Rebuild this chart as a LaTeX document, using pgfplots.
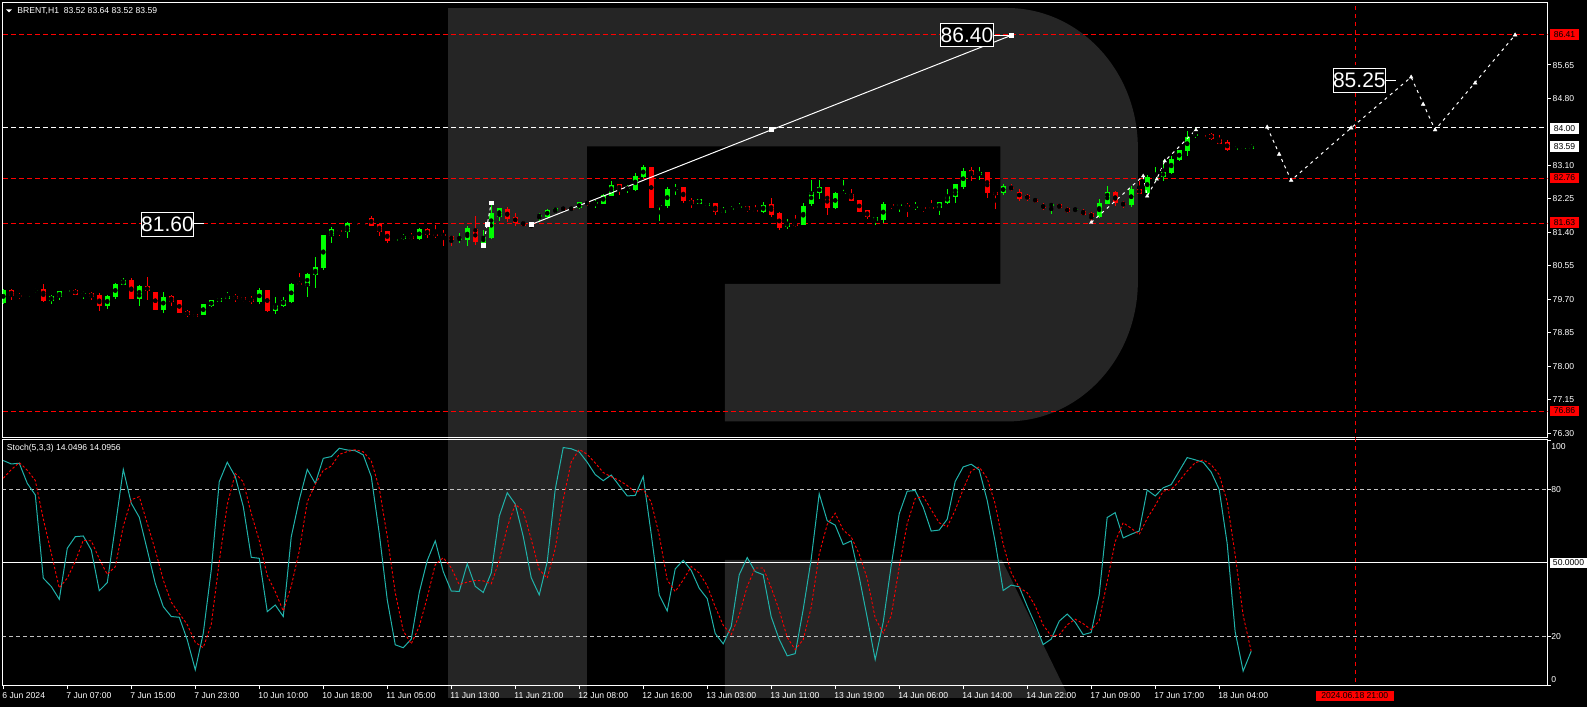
\documentclass[border=0pt]{standalone}
\usepackage{pgfplots}
\pgfplotsset{compat=1.18}
\usepackage{pgfplotstable}
\usepackage{fontspec}
\setmainfont{Liberation Sans}
\definecolor{bull}{RGB}{0,255,0}
\definecolor{bear}{RGB}{255,0,0}
\definecolor{wm}{RGB}{37,37,37}
\definecolor{stm}{RGB}{32,178,170}
\definecolor{lvl}{RGB}{192,192,192}
\newcommand{\lbl}{\fontsize{8.6bp}{10bp}\selectfont}
\newcommand{\biglbl}{\fontsize{21bp}{24bp}\selectfont}

\pgfplotstableread{
i o h l c m s
0 79.62 79.96 79.58 79.94 91.7 84.5
1 79.94 79.95 79.67 79.79 90.3 88.0
2 79.81 79.85 79.72 79.76 90.6 90.87
3 79.76 79.80 79.74 79.79 82.4 87.77
4 79.91 79.99 79.87 79.94 77.7 83.57
5 79.96 80.09 79.64 79.67 43.8 67.97
6 79.67 79.82 79.59 79.79 40.4 53.97
7 79.76 79.91 79.67 79.91 35.2 39.80
8 79.90 79.94 79.87 79.94 56.0 43.87
9 79.94 79.96 79.81 79.82 60.7 50.63
10 79.84 79.90 79.71 79.86 61.0 59.23
11 79.86 79.89 79.68 79.76 55.3 59.00
12 79.81 79.85 79.41 79.52 38.7 51.67
13 79.52 79.82 79.45 79.79 42.0 45.33
14 79.77 80.12 79.72 80.09 64.8 48.50
15 80.06 80.24 80.06 80.19 88.1 64.97
16 80.19 80.24 79.70 79.70 74.3 75.73
17 79.72 80.06 79.54 80.04 68.6 77.00
18 80.04 80.27 79.67 79.90 55.3 66.07
19 79.89 79.89 79.44 79.44 41.7 55.20
20 79.44 79.88 79.34 79.76 32.2 43.07
21 79.79 79.81 79.54 79.64 28.2 34.03
22 79.68 79.68 79.36 79.36 27.9 29.43
23 79.40 79.43 79.24 79.30 18.7 24.93
24 79.33 79.33 79.24 79.25 6.5 17.70
25 79.30 79.58 79.30 79.58 21.4 15.53
26 79.53 79.68 79.51 79.68 47.2 25.03
27 79.64 79.74 79.64 79.74 83.1 50.57
28 79.72 79.89 79.72 79.79 91.0 73.77
29 79.79 79.83 79.63 79.71 85.2 86.43
30 79.76 79.76 79.63 79.68 73.0 83.07
31 79.72 79.79 79.58 79.64 52.3 70.17
32 79.63 79.99 79.59 79.94 51.9 59.07
33 79.94 79.94 79.39 79.41 30.2 44.80
34 79.41 79.76 79.34 79.56 32.9 38.33
35 79.53 79.76 79.50 79.68 28.2 30.43
36 79.63 80.12 79.62 80.09 60.7 40.60
37 80.12 80.37 80.04 80.06 75.7 54.87
38 80.04 80.37 79.77 80.34 88.1 74.83
39 80.32 80.77 79.99 80.52 82.4 82.07
40 80.49 81.33 80.45 81.33 92.6 87.70
41 81.32 81.54 81.14 81.49 93.3 89.43
42 81.46 81.46 81.32 81.42 96.7 94.20
43 81.42 81.66 81.27 81.63 96.0 95.33
44 81.63 81.66 81.58 81.58 95.7 96.13
45 81.61 81.61 81.59 81.59 94.0 95.23
46 81.77 81.82 81.55 81.57 85.2 91.63
47 81.61 81.61 81.32 81.42 62.1 80.43
48 81.44 81.44 81.14 81.18 35.0 60.77
49 81.18 81.26 81.16 81.23 16.7 37.93
50 81.24 81.36 81.21 81.31 15.5 22.40
51 81.31 81.38 81.21 81.22 19.0 17.07
52 81.24 81.51 81.21 81.49 38.0 24.17
53 81.49 81.51 81.26 81.33 51.0 36.00
54 81.36 81.59 81.26 81.33 59.0 49.33
55 81.34 81.46 81.06 81.33 46.5 52.17
56 81.31 81.31 81.06 81.21 38.6 48.03
57 81.21 81.38 81.13 81.26 38.4 41.17
58 81.21 81.56 81.06 81.51 49.7 42.23
59 81.49 81.82 81.08 81.16 40.5 42.87
60 81.13 81.46 81.06 81.28 38.0 42.73
61 81.26 82.17 81.23 81.89 46.0 41.50
62 81.80 82.01 81.68 82.01 69.0 51.00
63 81.99 82.04 81.66 81.75 78.6 64.53
64 81.78 81.88 81.56 81.65 74.0 73.87
65 81.65 81.70 81.56 81.57 60.8 71.13
66 81.60 81.62 81.50 81.55 44.0 59.60
67 81.80 81.89 81.68 81.84 37.0 47.27
68 81.80 82.00 81.77 81.97 50.5 43.83
69 81.94 82.01 81.89 82.01 80.0 55.83
70 82.03 82.03 81.96 81.98 97.0 75.83
71 82.03 82.03 81.96 81.98 96.5 91.17
72 82.01 82.16 81.99 82.16 95.2 96.23
73 82.17 82.20 82.08 82.12 91.0 94.23
74 82.12 82.21 82.02 82.17 86.0 90.73
75 82.12 82.38 82.12 82.35 83.5 86.83
76 82.33 82.70 82.33 82.61 85.8 85.10
77 82.62 82.62 82.35 82.48 81.5 83.60
78 82.50 82.59 82.41 82.53 77.3 81.53
79 82.48 82.92 82.45 82.83 77.5 78.77
80 82.80 83.10 82.78 83.05 85.2 80.00
81 83.06 83.07 82.01 82.01 61.7 74.80
82 82.07 82.12 81.70 82.10 37.0 61.30
83 82.07 82.54 82.01 82.51 30.5 43.07
84 82.49 82.64 82.35 82.51 47.6 38.37
85 82.56 82.56 82.14 82.19 51.1 43.07
86 82.22 82.27 82.01 82.12 47.0 48.57
87 82.12 82.25 82.12 82.25 39.7 45.93
88 82.07 82.17 82.07 82.14 35.5 40.73
89 82.14 82.14 81.83 81.91 21.3 32.17
90 81.88 82.04 81.88 81.96 17.1 24.63
91 81.96 82.06 81.93 82.03 24.1 20.83
92 82.01 82.14 81.99 82.07 45.2 28.80
93 82.07 82.07 81.91 81.96 52.2 40.50
94 81.96 82.09 81.88 81.91 46.5 47.97
95 81.91 82.17 81.88 82.09 45.2 47.97
96 82.12 82.27 81.80 81.83 28.1 39.93
97 81.88 81.91 81.47 81.51 18.9 30.73
98 81.54 81.75 81.49 81.64 12.2 19.73
99 81.64 81.85 81.54 81.57 13.1 14.73
100 81.59 82.14 81.59 82.07 31.1 18.80
101 82.12 82.72 82.07 82.43 51.6 31.93
102 82.41 82.72 82.25 82.54 78.2 53.63
103 82.54 82.54 81.83 82.01 67.2 65.67
104 82.01 82.43 81.99 82.41 65.4 70.27
105 82.38 82.72 82.35 82.41 57.5 63.37
106 82.38 82.49 82.20 82.20 59.0 60.63
107 82.22 82.22 81.91 81.93 44.3 53.60
108 81.96 81.96 81.75 81.80 27.8 43.70
109 81.70 81.80 81.59 81.78 10.7 27.60
110 81.72 82.17 81.64 82.12 25.9 21.47
111 82.12 82.14 81.99 82.07 48.9 28.50
112 82.09 82.14 81.93 82.12 70.0 48.27
113 82.09 82.14 81.80 82.04 79.2 66.03
114 82.04 82.17 81.96 82.07 79.5 76.23
115 82.04 82.07 81.91 82.01 72.7 77.13
116 82.04 82.22 81.96 81.99 63.0 71.73
117 82.01 82.17 81.83 82.17 63.4 66.37
118 82.14 82.51 82.12 82.33 67.8 64.73
119 82.30 82.62 82.14 82.62 83.2 71.47
120 82.56 83.04 82.49 82.96 89.1 80.03
121 82.98 83.06 82.70 82.85 90.2 87.50
122 82.85 83.06 82.72 82.93 87.9 89.07
123 82.93 82.93 82.27 82.41 75.5 84.53
124 82.43 82.43 81.99 82.35 58.6 74.00
125 82.40 82.62 82.35 82.58 38.8 57.63
126 82.55 82.62 82.45 82.49 41.0 46.13
127 82.43 82.50 82.20 82.26 40.3 40.03
128 82.35 82.38 82.20 82.24 32.4 37.90
129 82.26 82.28 82.15 82.18 25.0 32.57
130 82.07 82.15 81.97 82.04 16.8 24.73
131 82.07 82.12 81.87 82.12 19.0 20.27
132 82.12 82.12 81.99 82.02 26.3 20.70
133 82.02 82.04 81.89 81.92 29.2 24.83
134 81.97 82.02 81.92 82.00 25.9 27.13
135 81.94 81.99 81.84 81.84 20.8 25.30
136 81.89 81.92 81.65 81.79 21.7 22.80
137 81.79 82.25 81.77 82.15 37.0 26.50
138 82.12 82.58 82.12 82.42 68.5 42.40
139 82.42 82.45 82.07 82.15 70.5 58.67
140 82.15 82.20 82.02 82.10 60.2 66.40
141 82.10 82.58 82.04 82.50 61.7 64.13
142 82.50 82.70 82.37 82.37 63.0 61.63
143 82.40 82.86 82.38 82.81 79.7 68.13
144 82.76 83.06 82.68 82.81 77.3 73.33
145 82.81 83.24 82.70 82.93 80.6 79.20
146 82.91 83.34 82.88 83.26 81.9 79.93
147 83.24 83.49 83.21 83.49 87.4 83.30
148 83.47 83.97 83.34 83.82 92.9 87.40
149 83.85 84.05 83.80 83.90 92.0 90.77
150 83.87 83.87 83.80 83.83 91.0 91.97
151 83.90 83.92 83.75 83.77 87.0 90.00
152 83.77 83.87 83.64 83.64 80.0 86.00
153 83.69 83.74 83.47 83.49 58.0 75.00
154 83.49 83.59 83.47 83.54 22.0 53.33
155 83.52 83.62 83.52 83.54 6.0 28.67
156 83.52 83.64 83.52 83.59 14.05 14.10
}\data

\begin{document}
\begin{tikzpicture}
\begin{scope}[x=1bp,y=1bp]
\useasboundingbox (0,0) rectangle (1587,707);
\fill[black] (0,0) rectangle (1587,707);
% watermark
\fill[wm] (448.5,9) rectangle (587.2,699);
\fill[wm] (587.2,699) -- (1007,699) arc[start angle=90,end angle=0,x radius=131,y radius=140]
  -- (1138,425.5) arc[start angle=0,end angle=-90,x radius=131,y radius=140]
  -- (725,285.5) -- (725,423) -- (1000.5,423) -- (1000.5,560.5) -- (587.2,560.5) -- cycle;
\fill[wm] (725,147) -- (1002,147) -- (1069.3,9) -- (725,9) -- cycle;
\end{scope}

% ---------------- price panel ----------------
\begin{axis}[
  at={(2.7bp,269.7bp)}, anchor=south west,
  width=1545bp, height=434.6bp, scale only axis,
  xmin=-0.075, xmax=193.05, ymin=76.199, ymax=87.23,
  axis line style={white, line width=1bp},
  xtick=\empty,
  ytick={76.30,77.15,78.00,78.85,79.70,80.55,81.40,82.25,83.10,84.80,85.65},
  ytick pos=right, yticklabel pos=right,
  tick align=outside, major tick length=3bp,
  tick style={white, line width=1bp},
  yticklabel style={font=\lbl, text=white, anchor=base west, inner sep=0pt, xshift=2bp, yshift=-3.1bp,
    /pgf/number format/.cd, fixed, zerofill, precision=2, assume math mode=true},
  clip=true,
]
\addplot[bear, line width=1bp, dash pattern=on 5bp off 3bp] coordinates {(-1,86.41) (194,86.41)};
\addplot[bear, line width=1bp, dash pattern=on 5bp off 3bp] coordinates {(-1,82.76) (194,82.76)};
\addplot[bear, line width=1bp, dash pattern=on 5bp off 3bp] coordinates {(-1,81.63) (194,81.63)};
\addplot[bear, line width=1bp, dash pattern=on 5bp off 3bp] coordinates {(-1,76.86) (194,76.86)};
\addplot[white, line width=1bp, dash pattern=on 5bp off 3bp] coordinates {(-1,84.05) (194,84.05)};
\addplot[bear, line width=1bp, dash pattern=on 4bp off 4bp] coordinates {(169,70) (169,90)};
% wicks
\addplot[only marks, mark=none, restrict y to domain=0:200,
  error bars/.cd, y dir=both, y explicit, error mark=none,
  error bar style={draw=bull, line width=1bp}]
  table[x=i, y expr={(\thisrow{h}+\thisrow{l})/2 + 1000*(\thisrow{o}>\thisrow{c})},
        y error expr={(\thisrow{h}-\thisrow{l})/2}] {\data};
\addplot[only marks, mark=none, restrict y to domain=0:200,
  error bars/.cd, y dir=both, y explicit, error mark=none,
  error bar style={draw=bear, line width=1bp}]
  table[x=i, y expr={(\thisrow{h}+\thisrow{l})/2 + 1000*(1-(\thisrow{o}>\thisrow{c}))},
        y error expr={(\thisrow{h}-\thisrow{l})/2}] {\data};
% bodies
\addplot[only marks, mark=none, restrict y to domain=0:200,
  error bars/.cd, y dir=both, y explicit, error mark=none,
  error bar style={draw=bull, line width=5bp}]
  table[x=i, y expr={(\thisrow{o}+\thisrow{c})/2 + 1000*(\thisrow{o}>\thisrow{c})},
        y error expr={max(abs(\thisrow{c}-\thisrow{o})/2,0.013)}] {\data};
\addplot[only marks, mark=none, restrict y to domain=0:200,
  error bars/.cd, y dir=both, y explicit, error mark=none,
  error bar style={draw=bear, line width=5bp}]
  table[x=i, y expr={(\thisrow{o}+\thisrow{c})/2 + 1000*(1-(\thisrow{o}>\thisrow{c}))},
        y error expr={max(abs(\thisrow{c}-\thisrow{o})/2,0.013)}] {\data};
% analysis lines
\addplot[white, line width=1bp, mark=square*, mark size=2bp] coordinates {(66,81.60) (96,84.00) (126,86.40)};
\addplot[white, line width=1bp, dash pattern=on 3bp off 3bp, mark=square*, mark size=1.8bp, mark options={solid}] coordinates {(60,81.06) (60.5,81.60) (61,82.15)};
\addplot[white, line width=1bp, dash pattern=on 3bp off 4bp] coordinates {(136,81.65) (142.5,82.83) (143,82.32) (144.2,82.75) (145.2,83.21) (149.1,84.0)};
\addplot[white, only marks, mark=triangle*, mark size=2bp] coordinates {(136,81.65) (142.5,82.83) (143,82.32) (144.2,82.75) (145.2,83.21) (149.1,84.0)};
\addplot[white, line width=1bp, dash pattern=on 3bp off 4bp] coordinates {(158,84.07) (161,82.72) (168.5,84.05) (176,85.34) (179,84.0) (189,86.41)};
\addplot[white, only marks, mark=triangle*, mark size=2.2bp] coordinates {(158,84.07) (159.5,83.38) (161,82.72) (168.5,84.05) (176,85.34) (177.5,84.65) (179,84.0) (184,85.19) (189,86.41)};
\end{axis}

% ---------------- stochastic panel ----------------
\begin{axis}[
  at={(2.7bp,21bp)}, anchor=south west,
  width=1545bp, height=246.7bp, scale only axis,
  xmin=-0.075, xmax=193.05, ymin=-0.04, ymax=100.37,
  axis line style={white, line width=1bp},
  xtick={0,8,...,152},
  xticklabels={6 Jun 2024, 7 Jun 07:00, 7 Jun 15:00, 7 Jun 23:00, 10 Jun 10:00, 10 Jun 18:00, 11 Jun 05:00, 11 Jun 13:00, 11 Jun 21:00, 12 Jun 08:00, 12 Jun 16:00, 13 Jun 03:00, 13 Jun 11:00, 13 Jun 19:00, 14 Jun 06:00, 14 Jun 14:00, 14 Jun 22:00, 17 Jun 09:00, 17 Jun 17:00, 18 Jun 04:00},
  xtick pos=bottom,
  xticklabel style={font=\lbl, text=white, anchor=north west, inner sep=0pt, xshift=-1bp, yshift=-2.5bp},
  ytick={0,20,80,100}, yticklabels={,,,},
  ytick pos=right,
  tick align=outside, major tick length=3.5bp,
  tick style={white, line width=1bp},
  clip=true,
]
\addplot[lvl, line width=1bp, dash pattern=on 4bp off 3bp] coordinates {(-1,80) (194,80)};
\addplot[lvl, line width=1bp, dash pattern=on 4bp off 3bp] coordinates {(-1,20) (194,20)};
\addplot[white, line width=1bp] coordinates {(-1,50) (194,50)};
\addplot[bear, line width=1bp, dash pattern=on 4bp off 4bp] coordinates {(169,-5) (169,105)};
\addplot[stm, line width=1bp] table[x=i, y=m] {\data};
\addplot[bear, line width=0.9bp, dash pattern=on 2.5bp off 2bp] table[x=i, y=s] {\data};
\end{axis}

% ---------------- texts and boxes ----------------
\begin{scope}[x=1bp,y=1bp]
\fill[white] (6,697.5) -- (12,697.5) -- (9,694.5) -- cycle;
\node[anchor=base west, inner sep=0pt, text=white, font=\lbl] at (17.3,693.2) {BRENT,H1\ \ 83.52 83.64 83.52 83.59};
\node[anchor=base west, inner sep=0pt, text=white, font=\lbl] at (6.7,256.6) {Stoch(5,3,3) 14.0496 14.0956};

\node[fill=bear, text=black, font=\lbl, inner sep=0pt, minimum width=29.6bp, minimum height=10.7bp, anchor=west] at (1549.7,672.3) {86.41};
\node[fill=white, text=black, font=\lbl, inner sep=0pt, minimum width=29.6bp, minimum height=10.7bp, anchor=west] at (1549.7,578.5) {84.00};
\node[fill=white, text=black, font=\lbl, inner sep=0pt, minimum width=29.6bp, minimum height=10.7bp, anchor=west] at (1549.7,560.7) {83.59};
\node[fill=bear, text=black, font=\lbl, inner sep=0pt, minimum width=29.6bp, minimum height=10.7bp, anchor=west] at (1549.7,529) {82.76};
\node[fill=bear, text=black, font=\lbl, inner sep=0pt, minimum width=29.6bp, minimum height=10.7bp, anchor=west] at (1549.7,484.2) {81.63};
\node[fill=bear, text=black, font=\lbl, inner sep=0pt, minimum width=29.6bp, minimum height=10.7bp, anchor=west] at (1549.7,296) {76.86};

\node[anchor=base west, inner sep=0pt, text=white, font=\lbl] at (1551.3,257.9) {100};
\node[anchor=base west, inner sep=0pt, text=white, font=\lbl] at (1551.3,214.6) {80};
\node[anchor=base west, inner sep=0pt, text=white, font=\lbl] at (1551.3,67.2) {20};
\node[anchor=base west, inner sep=0pt, text=white, font=\lbl] at (1551.3,24.6) {0};
\node[fill=white, text=black, font=\lbl, inner sep=0pt, minimum width=37bp, minimum height=10.6bp, anchor=west] at (1550,144) {50.0000};

\node[fill=bear, text=black, font=\lbl, inner sep=0pt, minimum width=78bp, minimum height=10bp] at (1354.9,11.3) {2024.06.18 21:00};

\node[draw=white, line width=1bp, fill=black, text=white, font=\biglbl, inner sep=0pt, minimum width=52.6bp, minimum height=23.5bp] at (967.1,671.85) {86.40};
\draw[white, line width=1bp] (993.4,671) -- (1011,671);
\node[draw=white, line width=1bp, fill=black, text=white, font=\biglbl, inner sep=0pt, minimum width=52.4bp, minimum height=24bp] at (1359.5,626.7) {85.25};
\draw[white, line width=1bp] (1385.7,626.7) -- (1396,626.7);
\node[draw=white, line width=1bp, fill=black, text=white, font=\biglbl, inner sep=0pt, minimum width=52.4bp, minimum height=24.4bp] at (167.5,482.5) {81.60};
\draw[white, line width=1bp] (193.7,483.3) -- (203.7,483.3);
\end{scope}
\end{tikzpicture}
\end{document}
